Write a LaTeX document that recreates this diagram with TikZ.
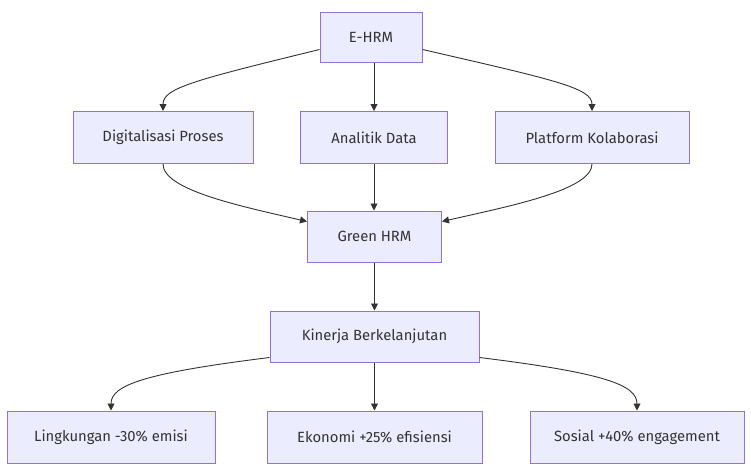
\documentclass[tikz,border=0pt]{standalone}
\usepackage{fontspec}
\setmainfont{Fira Sans}
\usetikzlibrary{arrows.meta}
\definecolor{boxfill}{HTML}{ECECFF}
\definecolor{boxline}{HTML}{9370DB}
\definecolor{ink}{HTML}{333333}
\begin{document}
\begin{tikzpicture}[x=1pt,y=-1pt,
  box/.style={draw=boxline,fill=boxfill,line width=1pt,text=ink,font=\fontsize{14.8}{17}\selectfont,inner sep=0pt,anchor=center},
  conn/.style={draw=ink,line width=0.9pt,-{Triangle[length=7pt,width=7pt]}}]
\useasboundingbox[fill=white] (0,0) rectangle (751,466);
\node[box,minimum width=102pt,minimum height=50pt] (ehrm) at (371,37.5) {E-HRM};
\node[box,minimum width=180pt,minimum height=52pt] (dig) at (163,137.5) {Digitalisasi Proses};
\node[box,minimum width=147pt,minimum height=52pt] (ana) at (374,137.5) {Analitik Data};
\node[box,minimum width=194pt,minimum height=52pt] (plat) at (592,137.5) {Platform Kolaborasi};
\node[box,minimum width=134pt,minimum height=51pt] (green) at (374.5,236.5) {Green HRM};
\node[box,minimum width=209pt,minimum height=51pt] (kin) at (374.5,336.5) {Kinerja Berkelanjutan};
\node[box,minimum width=208pt,minimum height=52pt] (ling) at (111,437) {Lingkungan -30\% emisi};
\node[box,minimum width=215pt,minimum height=52pt] (eko) at (374.5,437) {Ekonomi +25\% efisiensi};
\node[box,minimum width=214pt,minimum height=52pt] (sos) at (637,437) {Sosial +40\% engagement};

\coordinate (e1) at ([yshift=-12pt]ehrm.west);
\coordinate (e2) at ([yshift=-12pt]ehrm.east);
\draw[conn] (e1) .. controls (195,80) and (163,88) .. (dig.north);
\draw[conn] (ehrm.south -| ana.north) -- (ana.north);
\draw[conn] (e2) .. controls (555,80) and (592,88) .. (plat.north);

\coordinate (g1) at ([yshift=15pt]green.west);
\coordinate (g2) at ([yshift=15pt]green.east);
\draw[conn] (dig.south) .. controls (163,190) and (240,206) .. (g1);
\draw[conn] (ana.south) -- (green.north -| ana.south);
\draw[conn] (plat.south) .. controls (592,190) and (510,206) .. (g2);

\draw[conn] (green.south) -- (kin.north);

\coordinate (k1) at ([yshift=-21pt]kin.west);
\coordinate (k2) at ([yshift=-21pt]kin.east);
\draw[conn] (k1) .. controls (145,373) and (111,385) .. (ling.north);
\draw[conn] (kin.south) -- (eko.north);
\draw[conn] (k2) .. controls (605,373) and (637,385) .. (sos.north);
\end{tikzpicture}
\end{document}
